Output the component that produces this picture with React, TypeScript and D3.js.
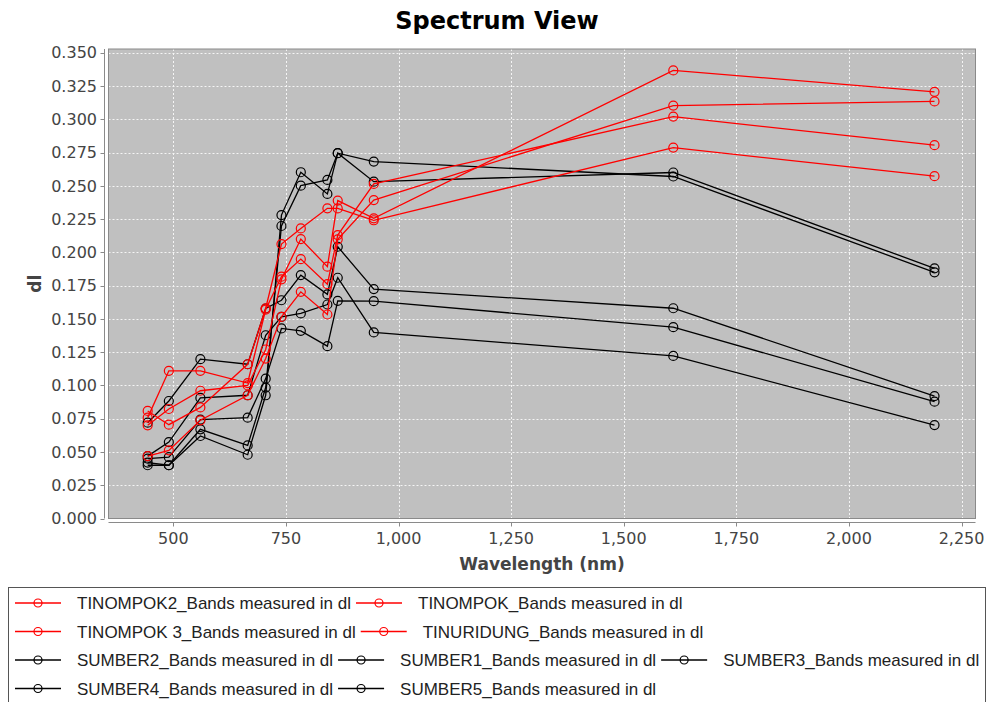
import * as d3 from 'd3'
import React from 'react'

// band centre wavelengths (nm)
const wavelengths = [443, 490, 560, 665, 705, 740, 783, 842, 865, 945, 1610, 2190]

// red series
const tinompok2 = [0.0808, 0.0705, 0.0835, 0.1159, 0.158, 0.2062, 0.218, 0.2331, 0.233, 0.2241, 0.2787, 0.2572]
const tinompok = [0.0758, 0.111, 0.111, 0.1018, 0.157, 0.1817, 0.1949, 0.1761, 0.213, 0.2514, 0.302, 0.2805]
const tinompok3 = [0.070, 0.0823, 0.096, 0.100, 0.127, 0.1797, 0.21, 0.1892, 0.2389, 0.2256, 0.3367, 0.3206]
const tinuridung = [0.0469, 0.0512, 0.0738, 0.0926, 0.1202, 0.1515, 0.1703, 0.1533, 0.2098, 0.2393, 0.3103, 0.3134]

// black series
const sumber2 = [0.040, 0.040, 0.062, 0.0479, 0.0926, 0.228, 0.2602, 0.2439, 0.2745, 0.2531, 0.260, 0.188]
const sumber1 = [0.042, 0.040, 0.067, 0.0549, 0.0984, 0.2198, 0.2501, 0.2544, 0.2745, 0.2682, 0.257, 0.185]
const sumber3 = [0.072, 0.0883, 0.1197, 0.1159, 0.1578, 0.164, 0.1829, 0.1684, 0.2042, 0.1724, 0.158, 0.092]
const sumber4 = [0.0469, 0.0574, 0.0906, 0.0926, 0.1377, 0.1515, 0.1541, 0.1608, 0.1809, 0.1398, 0.1222, 0.0702]
const sumber5 = [0.045, 0.0461, 0.0743, 0.0758, 0.1051, 0.1428, 0.141, 0.1295, 0.1636, 0.1633, 0.1438, 0.0878]

const seriesNames = [
  'TINOMPOK2_Bands measured in dl',
  'TINOMPOK_Bands measured in dl',
  'TINOMPOK 3_Bands measured in dl',
  'TINURIDUNG_Bands measured in dl',
  'SUMBER2_Bands measured in dl',
  'SUMBER1_Bands measured in dl',
  'SUMBER3_Bands measured in dl',
  'SUMBER4_Bands measured in dl',
  'SUMBER5_Bands measured in dl'
]
const seriesValues = [tinompok2, tinompok, tinompok3, tinuridung, sumber2, sumber1, sumber3, sumber4, sumber5]
const seriesColors = ['#ff0000', '#ff0000', '#ff0000', '#ff0000', '#000000', '#000000', '#000000', '#000000', '#000000']

const xTicks = [500, 750, 1000, 1250, 1500, 1750, 2000, 2250]
const yTicks = [0, 0.025, 0.05, 0.075, 0.1, 0.125, 0.15, 0.175, 0.2, 0.225, 0.25, 0.275, 0.3, 0.325, 0.35]

const width = 987
const height = 702
const plot = { left: 108.5, top: 49, right: 975.5, bottom: 518.5 }
const legendFont = '17px "Liberation Sans"'

let measureCtx = null
function textWidth (text, font) {
  if (!measureCtx) measureCtx = document.createElement('canvas').getContext('2d')
  measureCtx.font = font
  return measureCtx.measureText(text).width
}

export default function App () {
  const x = d3.scaleLinear().domain([356, 2281]).range([plot.left, plot.right])
  const y = d3.scaleLinear().domain([0, 0.3528]).range([plot.bottom, plot.top])
  const line = d3.line().x(d => x(d[0])).y(d => y(d[1]))
  const fmtY = d3.format('.3f')
  const fmtX = d3.format(',')

  const series = seriesNames.map((name, i) => ({
    name,
    color: seriesColors[i],
    points: wavelengths.map((w, j) => [w, seriesValues[i][j]])
  }))

  // flow legend, left aligned
  const legendItems = []
  let lx = 15
  let row = 0
  series.forEach(s => {
    const w = 62 + textWidth(s.name, legendFont)
    if (lx + w > 990 && lx > 15) { row++; lx = 15 }
    legendItems.push({ ...s, x: lx, row })
    lx += w + 5
  })
  const rowY = r => 603 + r * 28.5

  return (
    <div style={{ position: 'absolute', left: 0, top: 0 }}>
      <svg width={width} height={height} style={{ display: 'block', background: '#fff' }}>
        <text x={497} y={29} textAnchor='middle' fontFamily='DejaVu Sans' fontWeight='bold' fontSize={24} fill='#000'>Spectrum View</text>

        <rect x={plot.left} y={plot.top} width={plot.right - plot.left} height={plot.bottom - plot.top} fill='#c0c0c0' />
        <g stroke='#ffffff' strokeWidth={1} strokeDasharray='2,2' opacity={0.85}>
          {xTicks.map(t => (
            <line key={'gx' + t} x1={Math.round(x(t)) + 0.5} x2={Math.round(x(t)) + 0.5} y1={plot.top} y2={plot.bottom} />
          ))}
          {yTicks.map(t => (
            <line key={'gy' + t} x1={plot.left} x2={plot.right} y1={Math.round(y(t)) + 0.5} y2={Math.round(y(t)) + 0.5} />
          ))}
        </g>

        {series.slice().reverse().map(s => (
          <g key={s.name}>
            <path d={line(s.points)} fill='none' stroke={s.color} strokeWidth={1.3} />
            {s.points.map((p, j) => (
              <circle key={j} cx={x(p[0])} cy={y(p[1])} r={4.5} fill='none' stroke={s.color} strokeWidth={1.2} />
            ))}
          </g>
        ))}

        <rect x={plot.left} y={plot.top} width={plot.right - plot.left} height={plot.bottom - plot.top} fill='none' stroke='#8a8a8a' strokeWidth={1} />

        {/* y axis */}
        <line x1={104.5} x2={104.5} y1={plot.top} y2={plot.bottom} stroke='#8a8a8a' />
        {yTicks.map(t => (
          <g key={'ty' + t}>
            <line x1={100.5} x2={104.5} y1={Math.round(y(t)) + 0.5} y2={Math.round(y(t)) + 0.5} stroke='#8a8a8a' />
            <text x={97} y={y(t)} dy='0.36em' textAnchor='end' fontFamily='DejaVu Sans' fontSize={16} fill='#444'>{fmtY(t)}</text>
          </g>
        ))}
        <text transform={`translate(41,${(plot.top + plot.bottom) / 2}) rotate(-90)`} textAnchor='middle' fontFamily='DejaVu Sans' fontWeight='bold' fontSize={17} fill='#444'>dl</text>

        {/* x axis */}
        <line x1={plot.left} x2={plot.right} y1={522.5} y2={522.5} stroke='#8a8a8a' />
        {xTicks.map(t => (
          <g key={'tx' + t}>
            <line x1={Math.round(x(t)) + 0.5} x2={Math.round(x(t)) + 0.5} y1={522.5} y2={526.5} stroke='#8a8a8a' />
            <text x={x(t)} y={544} textAnchor='middle' fontFamily='DejaVu Sans' fontSize={16} fill='#444'>{fmtX(t)}</text>
          </g>
        ))}
        <text x={(plot.left + plot.right) / 2} y={570} textAnchor='middle' fontFamily='DejaVu Sans' fontWeight='bold' fontSize={17} fill='#444'>Wavelength (nm)</text>

        {/* legend */}
        <rect x={8.5} y={587.5} width={977} height={130} fill='#fff' stroke='#555' strokeWidth={1} />
        {legendItems.map(it => (
          <g key={'lg' + it.name}>
            <line x1={it.x} x2={it.x + 46} y1={rowY(it.row)} y2={rowY(it.row)} stroke={it.color} strokeWidth={1.4} />
            <circle cx={it.x + 23} cy={rowY(it.row)} r={4} fill='none' stroke={it.color} strokeWidth={1.2} />
            <text x={it.x + 62} y={rowY(it.row)} dy='0.36em' fontFamily='Liberation Sans' fontSize={17} fill='#222'>{it.name}</text>
          </g>
        ))}
      </svg>
    </div>
  )
}
